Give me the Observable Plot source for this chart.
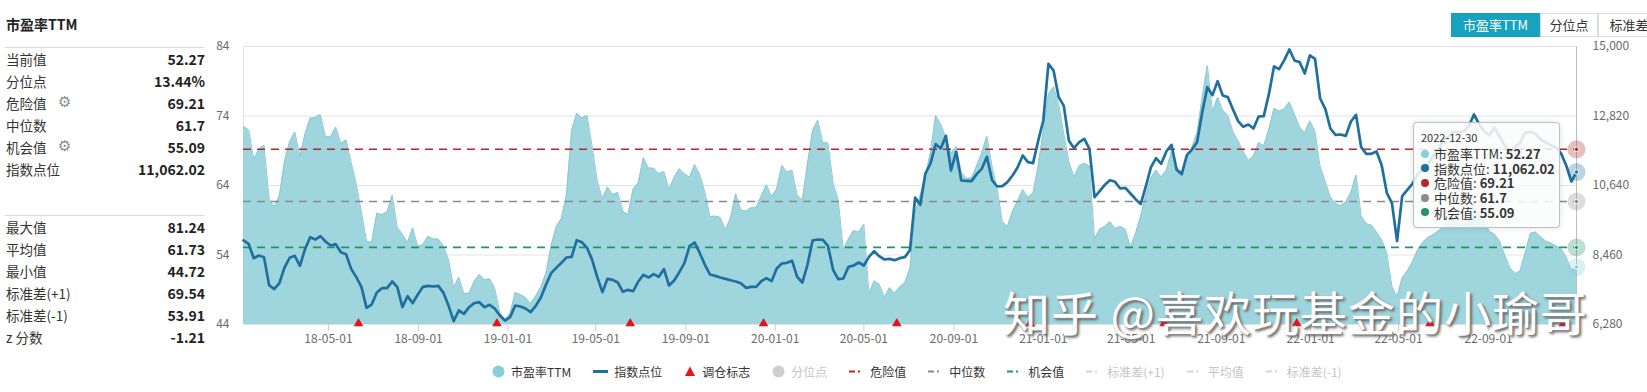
<!DOCTYPE html>
<html><head><meta charset="utf-8">
<script src="https://cdn.jsdelivr.net/npm/d3@7"></script>
<script src="https://cdn.jsdelivr.net/npm/@observablehq/plot@0.6"></script>
<style>
html,body{margin:0;padding:0;background:#fff;}
body{width:1647px;height:392px;position:relative;overflow:hidden;font-family:"Noto Sans CJK SC","Noto Sans",sans-serif;}
#chart{position:absolute;left:0;top:0;}
.title{position:absolute;left:6px;top:12px;font-size:14px;font-weight:700;color:#222;line-height:24px;white-space:nowrap;}
.row{position:absolute;left:6px;width:199px;height:22px;line-height:22px;font-size:13.5px;color:#333;white-space:nowrap;}
.row .v{position:absolute;right:0;top:0;font-weight:700;font-size:14px;color:#222;}
.row .g{position:absolute;left:52px;top:-1px;font-family:"DejaVu Sans";font-size:15px;color:#8a8a8a;}
.divider{position:absolute;left:5px;width:200px;height:1px;background:#dcdcdc;}
.tab{position:absolute;top:13px;height:24px;line-height:22px;font-size:13px;text-align:center;border:1px solid #dcdcdc;box-sizing:border-box;color:#333;background:#fff;white-space:nowrap;overflow:hidden;}
.tab.on{background:#17a2c0;border-color:#17a2c0;color:#fff;}
#legend{position:absolute;left:492px;top:362px;height:18px;display:flex;align-items:center;font-size:12px;color:#333;white-space:nowrap;}
#legend .it{display:flex;align-items:center;margin-right:22px;}
#legend .it.off{color:#c4c4c4;}
#legend svg{margin-right:6px;}
#tip{position:absolute;left:1413px;top:122px;width:147px;height:106px;box-sizing:border-box;background:rgba(250,251,252,0.86);border:1px solid rgba(170,180,185,0.8);border-radius:4px;box-shadow:0 0 6px rgba(0,0,0,0.12);font-size:13px;color:#333;}
#tip .d{position:absolute;left:7px;top:7px;font-size:11px;line-height:14px;color:#333;}
#tip .r{position:absolute;left:7px;height:15px;line-height:15px;white-space:nowrap;display:flex;align-items:center;}
#tip .r i{display:inline-block;width:8px;height:8px;border-radius:50%;margin-right:5px;}
#tip .r b{font-weight:700;margin-left:3px;}
#wm{position:absolute;left:1003px;top:283px;font-size:47px;line-height:56px;color:#fff;letter-spacing:1px;white-space:nowrap;text-shadow:1px 1px 0 #8a8a8a,2px 2px 3px #555;font-family:"Noto Sans CJK SC",sans-serif;}
</style></head>
<body>
<div id="chart"></div>
<div id="panel"></div>
<div id="tabs"></div>
<div id="tip"></div>
<div id="legend"></div>
<div id="wm">知乎 @喜欢玩基金的小瑜哥</div>
<script>
// ---------- data ----------
const startFriday = "2018-01-05";   // weekly (Friday) closes
const endFriday = "2022-12-30";
const peValues = [
72.5,72.0,67.8,69.2,69.8,62.1,60.9,62.5,67.5,70.3,
71.7,68.2,71.4,73.7,73.8,74.2,71.0,71.0,72.4,70.0,
70.6,67.3,64.2,60.2,56.0,55.8,60.0,59.8,60.2,62.6,
58.0,57.0,55.8,57.9,55.2,55.5,56.7,56.3,56.3,55.3,
53.3,49.3,50.8,48.4,48.5,50.2,51.2,50.4,50.6,49.2,
45.7,44.72,45.6,48.6,48.3,47.9,47.0,48.1,49.4,51.4,
55.3,58.1,59.2,62.7,71.9,74.4,73.7,74.1,69.6,64.7,
62.1,63.8,62.7,63.0,60.3,59.8,63.5,64.4,68.0,66.5,
66.5,65.7,66.0,63.4,65.2,66.4,65.7,65.2,67.0,65.6,
63.0,59.5,59.6,59.4,57.6,59.3,62.8,60.5,60.3,60.8,
60.8,62.5,64.1,62.4,63.5,66.9,65.9,66.2,62.6,61.9,
67.1,71.9,73.4,70.2,70.1,64.4,61.9,54.8,56.3,57.5,
57.3,58.4,48.4,50.3,49.8,47.9,49.3,48.5,49.4,50.0,
52.1,60.1,62.6,65.4,68.8,74.1,72.8,70.9,68.6,69.6,
65.9,65.0,65.1,66.8,68.7,71.1,66.8,63.5,58.8,58.1,
60.3,61.8,63.4,62.3,62.9,66.8,71.9,77.1,78.2,75.7,
71.4,67.4,65.2,66.8,67.2,66.8,56.3,57.7,58.1,58.8,
57.8,58.1,57.7,55.1,57.1,59.6,62.6,65.1,66.2,65.2,
66.2,68.9,66.7,65.9,68.0,69.5,71.6,76.7,81.24,74.6,
76.7,74.8,74.1,71.7,70.4,68.9,67.6,68.2,70.2,69.7,
72.1,75.1,74.7,75.0,76.0,74.2,72.4,71.6,73.3,71.8,
66.7,64.6,62.3,61.4,61.1,61.6,63.0,65.5,59.6,58.5,
58.3,57.3,56.2,54.3,49.5,48.0,50.7,51.7,53.0,54.7,
55.8,56.5,56.9,57.4,58.0,58.9,59.3,58.6,58.2,59.5,
61.3,60.0,58.9,57.4,57.0,56.0,54.0,52.2,51.3,51.7,
54.3,57.1,57.3,56.6,56.0,55.7,55.3,54.9,53.7,51.8,
52.27];
const indexValues = [
8915,8810,8360,8444,8392,7513,7388,7576,8068,8371,
8434,8120,8643,9019,8946,9051,8883,8758,8800,8549,
8486,8026,7765,7461,6803,6907,7283,7419,7419,7628,
7451,6824,7169,6949,7221,7461,7493,7472,7493,7273,
6865,6384,6719,6614,6823,6949,6980,6823,6897,6782,
6562,6405,6510,6876,6845,6782,6667,6865,7127,7524,
7890,8057,8214,8382,8403,8925,8862,8685,8308,7765,
7294,7712,7681,7597,7304,7367,7325,7628,7838,7754,
7859,7775,8016,7503,7660,7921,8204,8737,8852,8517,
8152,7848,7806,7754,7712,7670,7629,7576,7430,7461,
7461,7639,7733,7639,8036,8193,8214,8277,7775,7597,
8152,8915,8946,8936,8747,7995,7702,7723,8089,8131,
8225,8131,8403,8580,8423,8319,8340,8298,8361,8392,
8612,10264,10033,11016,11330,11937,11801,12198,11110,11696,
10797,10786,10776,10996,11163,11539,10807,10609,10619,10745,
10954,11215,11581,11372,11341,12041,12679,14456,14247,13411,
13139,12041,11811,12000,12104,11790,10274,10462,10661,10807,
10755,10546,10567,10389,10211,10055,10609,11215,11497,11320,
11707,11916,11132,10996,11591,11769,12000,12940,13724,13474,
13913,13463,13411,13024,12658,12480,12553,12428,12804,12815,
13505,14373,14289,14571,14906,14561,14509,14153,14718,14613,
13369,13045,12428,12229,12240,12198,12648,12857,11842,11633,
11633,11707,11278,10410,10086,8900,10305,10504,10692,10996,
11163,11309,11560,11738,12073,12167,12323,12302,12334,12501,
12867,12564,12334,12219,12460,12177,11895,11686,11842,11988,
12292,12323,12260,12083,11988,11905,11842,11644,11267,10766,
11062.02];
const rebalanceDates = ["2018-06-11","2018-12-17","2019-06-17","2019-12-16","2020-06-15","2020-12-14","2021-06-15","2021-12-13","2022-06-13","2022-12-12"];
const xTickDates = ["2018-05-01","2018-09-01","2019-01-01","2019-05-01","2019-09-01","2020-01-01","2020-05-01","2020-09-01","2021-01-01","2021-05-01","2021-09-01","2022-01-01","2022-05-01","2022-09-01"];
const peTicks = [44,54,64,74,84];
const indexTicks = [6280,8460,10640,12820,15000];
const dangerValue = 69.21, medianValue = 61.7, chanceValue = 55.09;
const lastPE = 52.27, lastIndex = 11062.02, lastDateLabel = "2022-12-30";
const statLabels1 = ["当前值","分位点","危险值","中位数","机会值","指数点位"];
const statValues1 = ["52.27","13.44%","69.21","61.7","55.09","11,062.02"];
const statGear1 = [false,false,true,false,true,false];
const statLabels2 = ["最大值","平均值","最小值","标准差(+1)","标准差(-1)","z 分数"];
const statValues2 = ["81.24","61.73","44.72","69.54","53.91","-1.21"];
const tabLabels = ["市盈率TTM","分位点","标准差"];
const legendLabels = ["市盈率TTM","指数点位","调仓标志","分位点","危险值","中位数","机会值","标准差(+1)","平均值","标准差(-1)"];

// ---------- colors ----------
const C = {area:"#9fd6de", areaEdge:"#8ccad3", index:"#1f6f9f", danger:"#b3282b", median:"#8a8a8a", chance:"#24936a", tri:"#e8121a", peDot:"#86d0da"};

// ---------- chart ----------
const [pMin, pMax] = [peTicks[0], peTicks[peTicks.length-1]];
const [iMin, iMax] = [indexTicks[0], indexTicks[indexTicks.length-1]];
const toPE = v => pMin + (v - iMin) / (iMax - iMin) * (pMax - pMin);
const fromPE = p => iMin + (p - pMin) / (pMax - pMin) * (iMax - iMin);
const dates = d3.utcFriday.range(new Date(startFriday), d3.utcDay.offset(new Date(endFriday), 1));
const data = dates.map((d, i) => ({date: d, pe: peValues[i], idx: indexValues[i], idxPE: toPE(indexValues[i])}));
const lastDate = new Date(endFriday);
const endDots = [
  {v: dangerValue, c: C.danger},
  {v: toPE(lastIndex), c: C.index},
  {v: medianValue, c: C.median},
  {v: chanceValue, c: C.chance},
  {v: lastPE, c: C.peDot}
];

const chart = Plot.plot({
  width: 1647, height: 352,
  marginLeft: 243, marginRight: 71, marginTop: 46, marginBottom: 28,
  style: {fontFamily: '"Noto Sans CJK SC","Noto Sans",sans-serif', fontSize: "12px", color: "#6a6a6a", background: "transparent"},
  x: {type: "utc", domain: [new Date(startFriday), lastDate]},
  y: {domain: [pMin, pMax]},
  marks: [
    Plot.gridY(peTicks.slice(1, -1), {stroke: "#e4e4e4", strokeOpacity: 1}),
    Plot.frame({stroke: "#e2e2e2"}),
    Plot.areaY(data, {x: "date", y1: pMin, y2: "pe", fill: C.area}),
    Plot.lineY(data, {x: "date", y: "pe", stroke: C.areaEdge, strokeWidth: 1}),
    Plot.ruleY([dangerValue], {stroke: C.danger, strokeWidth: 1.6, strokeDasharray: "8,6"}),
    Plot.ruleY([medianValue], {stroke: C.median, strokeWidth: 1.6, strokeDasharray: "8,6"}),
    Plot.ruleY([chanceValue], {stroke: C.chance, strokeWidth: 1.6, strokeDasharray: "8,6"}),
    Plot.lineY(data, {x: "date", y: "idxPE", stroke: C.index, strokeWidth: 2.7}),
    Plot.ruleX([lastDate], {stroke: "#bdbdbd", strokeWidth: 1}),
    Plot.dot(rebalanceDates, {x: d => new Date(d), y: pMin, symbol: "triangle", r: 3.6, fill: C.tri, dy: -1}),
    Plot.dot(endDots, {x: () => lastDate, y: "v", r: 9, fill: "c", fillOpacity: 0.3}),
    Plot.dot(endDots, {x: () => lastDate, y: "v", r: 2.2, fill: "c", stroke: "#fff", strokeWidth: 1}),
    Plot.axisX({ticks: xTickDates.map(d => new Date(d)), tickFormat: d3.utcFormat("%y-%m-%d"), tickSize: 7, tickPadding: 3, stroke: "#cfcfcf", label: null}),
    Plot.axisY({ticks: peTicks, tickSize: 0, tickPadding: 14, label: null}),
    Plot.axisY({anchor: "right", ticks: peTicks, tickFormat: d => d3.format(",")(Math.round(fromPE(d))), tickSize: 0, tickPadding: 16, label: null})
  ]
});
document.getElementById("chart").appendChild(chart);

// ---------- left panel ----------
const panel = document.getElementById("panel");
let html = `<div class="title">市盈率TTM</div><div class="divider" style="top:47px"></div>`;
statLabels1.forEach((l, i) => {
  html += `<div class="row" style="top:${48 + i*22}px">${l}${statGear1[i] ? '<span class="g">⚙</span>' : ''}<span class="v">${statValues1[i]}</span></div>`;
});
html += `<div class="divider" style="top:215px"></div>`;
statLabels2.forEach((l, i) => {
  html += `<div class="row" style="top:${216 + i*22}px">${l}<span class="v">${statValues2[i]}</span></div>`;
});
panel.innerHTML = html;

// ---------- tabs ----------
const tabGeom = [[1451, 89], [1540, 58], [1598, 62]];
document.getElementById("tabs").innerHTML = tabLabels.map((t, i) =>
  `<div class="tab${i === 0 ? ' on' : ''}" style="left:${tabGeom[i][0]}px;width:${tabGeom[i][1]}px">${t}</div>`).join("");

// ---------- tooltip ----------
const tipRows = [
  ["市盈率TTM", d3.format(".2f")(lastPE), C.peDot],
  ["指数点位", d3.format(",.2f")(lastIndex), C.index],
  ["危险值", String(dangerValue), C.danger],
  ["中位数", String(medianValue), C.median],
  ["机会值", String(chanceValue), C.chance]
];
document.getElementById("tip").innerHTML = `<div class="d">${lastDateLabel}</div>` +
  tipRows.map((r, i) => `<div class="r" style="top:${23 + i*14.7}px"><i style="background:${r[2]}"></i>${r[0]}:<b>${r[1]}</b></div>`).join("");

// ---------- legend ----------
const mk = {
  circle: c => `<svg width="13" height="13"><circle cx="6.5" cy="6.5" r="6" fill="${c}"/></svg>`,
  line: c => `<svg width="15" height="13"><line x1="0" x2="15" y1="6.5" y2="6.5" stroke="${c}" stroke-width="3"/></svg>`,
  tri: c => `<svg width="12" height="13"><path d="M6 1.5 L11 11 L1 11 Z" fill="${c}"/></svg>`,
  dash: c => `<svg width="15" height="13"><line x1="0" x2="15" y1="6.5" y2="6.5" stroke="${c}" stroke-width="2" stroke-dasharray="6,3,2,4"/></svg>`
};
const legendMarks = [["circle", C.peDot, 1], ["line", C.index, 1], ["tri", C.tri, 1], ["circle", "#cfcfcf", 0],
  ["dash", C.danger, 1], ["dash", C.median, 1], ["dash", C.chance, 1], ["dash", "#d6d6d6", 0], ["dash", "#d6d6d6", 0], ["dash", "#d6d6d6", 0]];
document.getElementById("legend").innerHTML = legendLabels.map((l, i) =>
  `<span class="it${legendMarks[i][2] ? '' : ' off'}">${mk[legendMarks[i][0]](legendMarks[i][1])}${l}</span>`).join("");
</script>
</body></html>
